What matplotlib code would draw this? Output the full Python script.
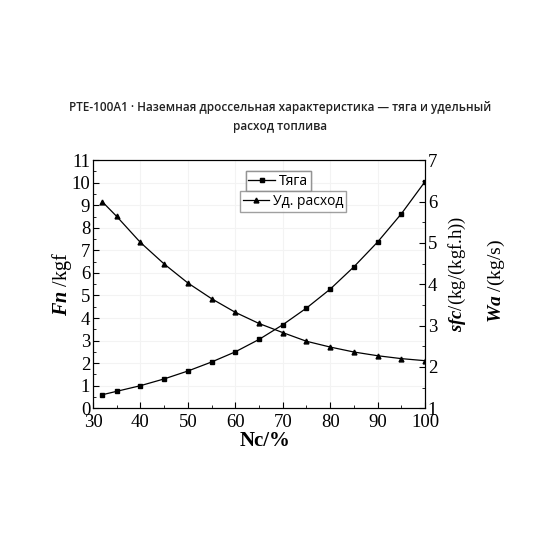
import matplotlib
matplotlib.use("Agg")
import matplotlib.pyplot as plt
from matplotlib.ticker import MultipleLocator

# ---- data ----
nc = [32, 35, 40, 45, 50, 55, 60, 65, 70, 75, 80, 85, 90, 95, 100]
thrust = [0.6, 0.75, 1.0, 1.3, 1.65, 2.05, 2.5, 3.05, 3.7, 4.44, 5.28, 6.27, 7.37, 8.62, 10.05]
sfc = [5.99, 5.64, 5.01, 4.49, 4.03, 3.65, 3.32, 3.05, 2.83, 2.62, 2.48, 2.36, 2.27, 2.2, 2.15]

title = "PTE-100A1 · Наземная дроссельная характеристика — тяга и удельный\nрасход топлива"

serif = "Liberation Serif"
plt.rcParams["mathtext.fontset"] = "custom"
plt.rcParams["mathtext.bf"] = "Liberation Serif:bold:italic"
plt.rcParams["mathtext.rm"] = "Liberation Serif"

fig = plt.figure(figsize=(5.6, 5.6), dpi=100)
ax = fig.add_axes([0.166, 0.271, 0.593, 0.443])
ax2 = ax.twinx()

l1, = ax.plot(nc, thrust, color="black", lw=0.9, marker="s", ms=3.2, label="Тяга")
l2, = ax2.plot(nc, sfc, color="black", lw=0.9, marker="^", ms=3.5, label="Уд. расход")

ax.set_xlim(30, 100)
ax.set_ylim(0, 11)
ax2.set_ylim(1, 7)
ax.xaxis.set_major_locator(MultipleLocator(10))
ax.xaxis.set_minor_locator(MultipleLocator(5))
ax.yaxis.set_major_locator(MultipleLocator(1))
ax.yaxis.set_minor_locator(MultipleLocator(0.5))
ax2.yaxis.set_major_locator(MultipleLocator(1))
ax2.yaxis.set_minor_locator(MultipleLocator(0.5))

for a in (ax, ax2):
    a.tick_params(which="major", direction="in", length=4, width=0.8, labelsize=13.5)
    a.tick_params(which="minor", direction="in", length=2.5, width=0.6)
    for lab in a.get_xticklabels() + a.get_yticklabels():
        lab.set_fontfamily(serif)
ax.tick_params(axis="y", right=False, pad=2)
ax2.tick_params(axis="y", pad=2)
ax.tick_params(axis="x", top=False, pad=4)

ax.grid(True, color="#f3f3f3", lw=0.8)
ax.set_axisbelow(True)

ax.set_xlabel("Nc/%", fontfamily=serif, fontweight="bold", fontsize=15)
ax.xaxis.set_label_coords(0.518, -0.09)
ax.set_ylabel(r"$\mathbf{Fn}$ /kgf", fontfamily=serif, fontsize=14.5)
ax.yaxis.set_label_coords(-0.058, 0.5)
ax2.set_ylabel(r"$\mathbf{sfc}$/(kg/(kgf.h))", fontfamily=serif, fontsize=13.5)
ax2.yaxis.set_label_coords(1.066, 0.54)
fig.text(0.887, 0.498, r"$\mathbf{Wa}$ /(kg/s)", rotation=90, ha="center", va="center",
         fontfamily=serif, fontsize=14)

leg1 = ax.legend(handles=[l1], loc="upper left", bbox_to_anchor=(0.46, 0.957),
                 prop={"family": "Open Sans", "size": 10}, fancybox=False,
                 edgecolor="#888888", borderpad=0.2, handlelength=1.9, handletextpad=0.3,
                 borderaxespad=0)
ax.add_artist(leg1)
ax2.legend(handles=[l2], loc="upper left", bbox_to_anchor=(0.442, 0.875),
           prop={"family": "Open Sans", "size": 10}, fancybox=False,
           edgecolor="#888888", borderpad=0.2, handlelength=1.9, handletextpad=0.3,
           borderaxespad=0)

fig.suptitle(title, x=0.5, y=0.82, fontsize=8.5, fontfamily="Open Sans",
             fontweight="semibold", color="#222222", linespacing=1.6)

fig.savefig("out.png", dpi=100)
